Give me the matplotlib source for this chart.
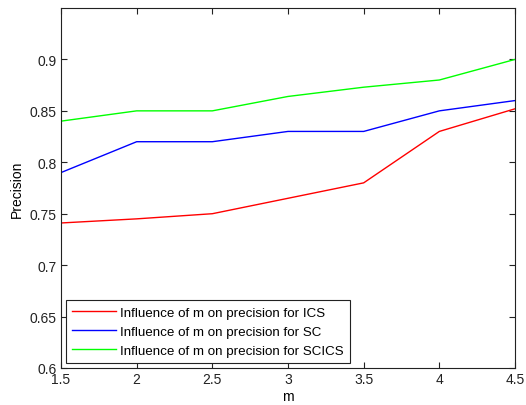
import matplotlib
matplotlib.use("Agg")
import matplotlib.pyplot as plt

m = [1.5, 2.0, 2.5, 3.0, 3.5, 4.0, 4.5]
ics = [0.741, 0.745, 0.750, 0.765, 0.780, 0.830, 0.852]
sc = [0.790, 0.820, 0.820, 0.830, 0.830, 0.850, 0.860]
scics = [0.840, 0.850, 0.850, 0.864, 0.873, 0.880, 0.900]
labels = ["Influence of m on precision for ICS",
          "Influence of m on precision for SC",
          "Influence of m on precision for SCICS"]
xticks = [1.5, 2, 2.5, 3, 3.5, 4, 4.5]
xticklabels = ["1.5", "2", "2.5", "3", "3.5", "4", "4.5"]
yticks = [0.6, 0.65, 0.7, 0.75, 0.8, 0.85, 0.9]
yticklabels = ["0.6", "0.65", "0.7", "0.75", "0.8", "0.85", "0.9"]

plt.rcParams['font.family'] = ['Liberation Sans', 'DejaVu Sans']

fig = plt.figure(figsize=(5.26, 4.06), dpi=100)
ax = fig.add_axes([61/526, 37/406, (515-61)/526, (369-9)/406])

ax.plot(m, ics, color='#ff0000', lw=1.0, label=labels[0])
ax.plot(m, sc, color='#0000ff', lw=1.0, label=labels[1])
ax.plot(m, scics, color='#00ff00', lw=1.0, label=labels[2])

ax.set_xlim(1.5, 4.5)
ax.set_ylim(0.6, 0.95)
ax.set_xticks(xticks)
ax.set_xticklabels(xticklabels)
ax.set_yticks(yticks)
ax.set_yticklabels(yticklabels)
ax.tick_params(direction='in', top=True, right=True, labelsize=10, length=4,
               width=0.8, pad=3, colors='#222222')
for s in ax.spines.values():
    s.set_linewidth(0.8)
    s.set_color('#222222')
ax.set_xlabel('m', fontsize=10, labelpad=2)
ax.set_ylabel('Precision', fontsize=10, labelpad=4)

leg = ax.legend(loc='lower left', fontsize=9.6, frameon=True, fancybox=False,
                edgecolor='#222222', framealpha=1, borderaxespad=0.4,
                handlelength=3.3, handletextpad=0.3, labelspacing=0.5,
                borderpad=0.45)
leg.get_frame().set_linewidth(0.8)

fig.savefig('out.png', dpi=100)
